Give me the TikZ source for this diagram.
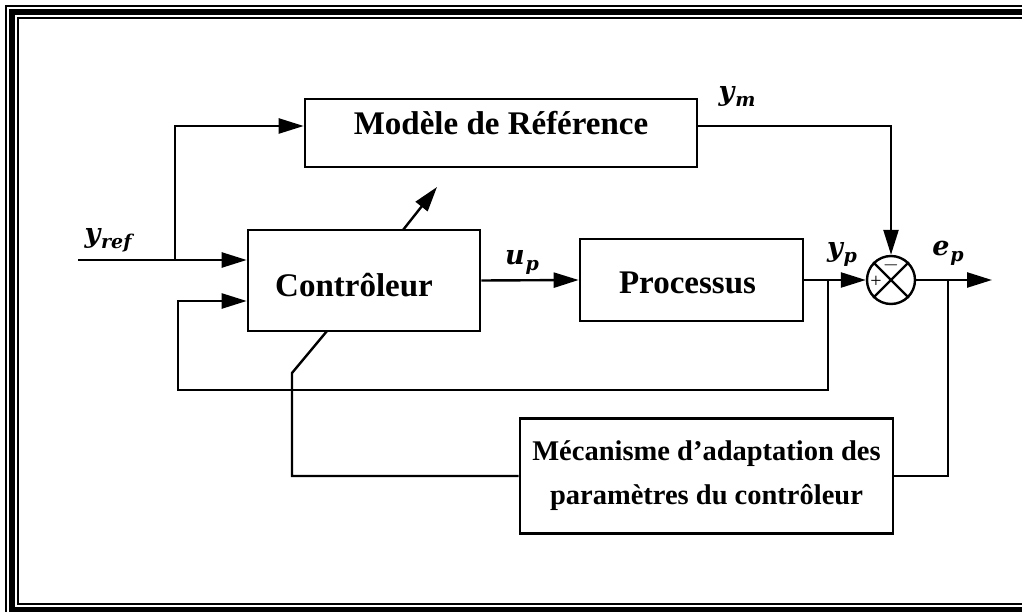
\documentclass[tikz,border=0pt]{standalone}
\usepackage{fontspec}
\setmainfont{Liberation Serif}
\newfontfamily\djv{DejaVu Serif}
\usetikzlibrary{arrows.meta}
\newcommand{\sublab}[2]{#1\kern1pt\raisebox{-6pt}{\fontsize{19}{20}\selectfont #2}}
\begin{document}
\begin{tikzpicture}[x=1pt,y=-1pt,
  box/.style={draw,line width=2.6pt,inner sep=0pt,font=\fontsize{33}{45}\selectfont\bfseries,align=center},
  wire/.style={line width=2.4pt},
  arr/.style={wire,-{Triangle[length=25pt,width=15pt]}},
  mlbl/.style={inner sep=0pt,font=\djv\fontsize{27}{30}\selectfont\bfseries\itshape},
  pm/.style={inner sep=0pt,font=\fontsize{20}{22}\selectfont}]
\useasboundingbox (0,0) rectangle (1022,612);
% frame
\draw[line width=2pt] (6,6) rectangle (1042,616.5);
\draw[line width=6pt] (12,12) rectangle (1036,610);
\draw[line width=2pt] (18,18) rectangle (1030,603.5);
% boxes
\node[box,minimum width=392pt,minimum height=68pt,text height=22pt,text depth=18pt] (mod) at (501,133) {Modèle de Référence};
\node[box,minimum width=232pt,minimum height=101pt,text height=31pt,text depth=0pt] (ctl) at (364,280.5) {Contrôleur\hspace{20pt}};
\node[box,minimum width=223pt,minimum height=82pt,text height=26pt,text depth=0pt] (proc) at (691.5,280) {Processus\hspace{8pt}};
\node[box,minimum width=373pt,minimum height=115pt,font=\fontsize{28.5}{44}\selectfont\bfseries] (mec) at (706.5,476) {Mécanisme d’adaptation des\\paramètres du contrôleur};
\node[circle,draw,line width=2.4pt,minimum size=48pt,inner sep=0pt] (sum) at (891,280) {};
\draw[line width=2.2pt] (sum.north west) -- (sum.south east) (sum.north east) -- (sum.south west);
\node[pm] (plus) at (876,282) {+};
\node[pm] (minus) at (891,265) {$-$};
% coordinates
\coordinate (in) at (78,260);
\coordinate (j1) at (175,260);
\coordinate (j1t) at (175,126);
\coordinate (jyp) at (828,280);
\coordinate (fbb) at (828,390);
\coordinate (fbl) at (178,390);
\coordinate (fbu) at (178,301);
\coordinate (out) at (992,280);
\coordinate (jep) at (948,280);
\coordinate (jepb) at (948,476);
\coordinate (ymc) at (891,126);
\coordinate (ad1) at (292,476);
\coordinate (ad2) at (292,373);
\coordinate (ad3) at (327,331);
\coordinate (da1) at (403,230);
\coordinate (da2) at (437,187);
% connectors
\draw[arr] (in) -- (ctl.west |- in);
\draw[arr] (j1) -- (j1t) -- (mod.west |- j1t);
\draw[arr] (jyp) -- (fbb) -- (fbl) -- (fbu) -- (ctl.west |- fbu);
\draw[arr] (ctl.east) -- (proc.west);
\draw[arr] (proc.east) -- (sum.west);
\draw[arr] (sum.east) -- (out);
\draw[wire] (jep) -- (jepb) -- (mec.east |- jepb);
\draw[arr] (mod.east |- ymc) -- (ymc) -- (sum.north);
\draw[wire] (mec.west |- ad1) -- (ad1) -- (ad2) -- (ad3);
\draw[arr] (da1) -- (da2);
% labels
\node[mlbl] (lyref) at (108,240) {\sublab{y}{ref}};
\node[mlbl] (lym) at (737,96) {\sublab{y}{m}};
\node[mlbl] (lup) at (522,262) {\sublab{u}{p}};
\node[mlbl] (lyp) at (842,254) {\sublab{y}{p}};
\node[mlbl] (lep) at (948,253) {\sublab{e}{p}};
\end{tikzpicture}
\end{document}
